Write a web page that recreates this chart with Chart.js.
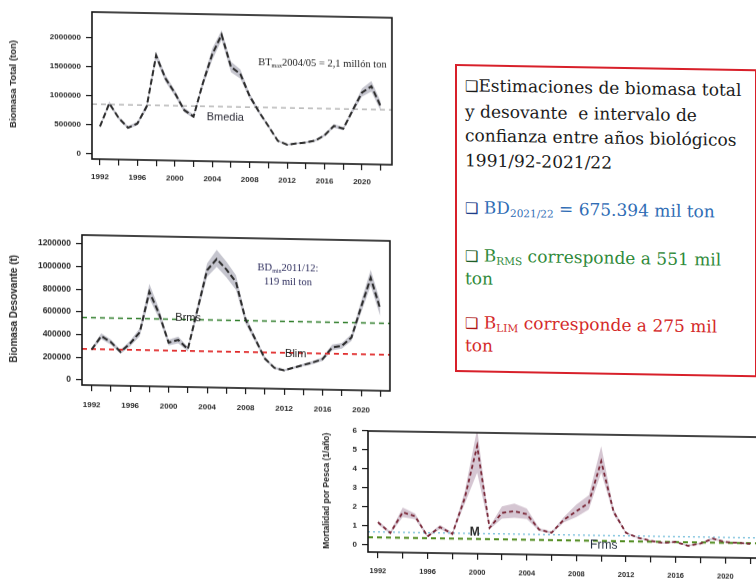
<!DOCTYPE html>
<html>
<head>
<meta charset="utf-8">
<script src="https://cdn.jsdelivr.net/npm/chart.js@4.4.1/dist/chart.umd.min.js"></script>
<style>
  html, body { margin: 0; padding: 0; background: #fff; width: 756px; height: 580px; overflow: hidden; position: relative; }
  canvas { position: absolute; }
  #c1 { left: 0; top: 0; transform: skewY(1.1deg); transform-origin: 92px 0; }
  #c2 { left: 0; top: 220px; transform: skewY(1.1deg); transform-origin: 82px 0; }
  #c3 { left: 315px; top: 415px; transform: skewY(0.9deg); transform-origin: 53px 0; }
  #info {
    position: absolute; left: 455px; top: 64px; width: 302px; height: 308px;
    border: 2px solid #d8202a; box-sizing: border-box;
    transform: skewY(1deg); transform-origin: 0 0;
    font-family: "DejaVu Serif", "Liberation Serif", serif; font-size: 17px; color: #1b1b1b;
  }
  #info div { position: absolute; left: 8px; white-space: nowrap; line-height: 22px; }
  #info div.lead { line-height: 24.5px; }
  .box { font-family: "DejaVu Sans", sans-serif; font-size: 15px; }
  sub { font-size: 10.5px; vertical-align: -3px; line-height: 0; }
</style>
</head>
<body>
<canvas id="c1" width="400" height="190"></canvas>
<canvas id="c2" width="400" height="205"></canvas>
<canvas id="c3" width="455" height="165"></canvas>

<div id="info">
  <div class="lead" style="top:7px"><span class="box">❑</span>Estimaciones de biomasa total<br>y desovante&nbsp; e intervalo de<br>confianza entre años biológicos<br>1991/92-2021/22</div>
  <div style="top:130px; color:#2f6db5"><span class="box" style="color:#1f3f8a">❑</span> BD<sub>2021/22</sub> = 675.394 mil ton</div>
  <div style="top:178px; color:#2f8a3a"><span class="box" style="color:#1f5f2a">❑</span> B<sub>RMS</sub> corresponde a 551 mil<br>ton</div>
  <div style="top:245px; color:#d42a2a"><span class="box" style="color:#b01818">❑</span> B<sub>LIM</sub> corresponde a 275 mil<br>ton</div>
</div>

<script>
// Biological years 1991/92 ... 2021/22, indexed by the closing year
const years = [1992,1993,1994,1995,1996,1997,1998,1999,2000,2001,2002,2003,2004,2005,2006,2007,
               2008,2009,2010,2011,2012,2013,2014,2015,2016,2017,2018,2019,2020,2021,2022];

// Total biomass (ton) with confidence interval
const totalBiomass = [475000,880000,630000,465000,540000,840000,1720000,1330000,1080000,790000,680000,1260000,
                      1760000,2100000,1550000,1430000,1050000,780000,540000,290000,225000,250000,270000,305000,
                      400000,565000,520000,840000,1150000,1260000,920000];
const totalLow = [455000,845000,605000,445000,510000,790000,1650000,1270000,1030000,750000,650000,1200000,
                  1660000,2010000,1460000,1350000,1000000,745000,515000,275000,212000,236000,255000,288000,
                  378000,535000,490000,795000,1080000,1170000,840000];
const totalHigh = [495000,915000,655000,490000,575000,890000,1790000,1390000,1130000,830000,715000,1320000,
                   1860000,2180000,1640000,1510000,1100000,815000,565000,305000,238000,264000,285000,322000,
                   422000,595000,550000,885000,1220000,1350000,1000000];

// Spawning biomass (t) with confidence interval
const spawningBiomass = [270000,390000,340000,255000,330000,430000,790000,600000,345000,370000,290000,640000,
                         990000,1090000,1000000,890000,560000,390000,220000,140000,119000,145000,170000,195000,
                         225000,330000,345000,420000,690000,950000,675394];
const spawningLow = [255000,365000,318000,238000,305000,395000,730000,555000,320000,340000,270000,600000,
                     930000,1020000,930000,820000,525000,365000,205000,130000,110000,135000,158000,182000,
                     210000,305000,320000,390000,640000,880000,610000];
const spawningHigh = [285000,415000,362000,272000,355000,465000,860000,645000,370000,400000,310000,680000,
                      1050000,1170000,1070000,950000,595000,415000,235000,150000,128000,155000,182000,208000,
                      240000,355000,370000,450000,740000,1020000,740000];

// Fishing mortality (1/año) with confidence interval
const fishingMortality = [1.2,0.65,1.75,1.55,0.5,1.0,0.65,2.55,5.3,1.0,1.8,1.9,1.75,0.95,0.8,1.5,
                          1.95,2.4,4.6,1.95,0.85,0.6,0.45,0.35,0.42,0.22,0.35,0.62,0.45,0.42,0.38];
const fishingLow = [1.1,0.6,1.5,1.4,0.45,0.9,0.6,2.25,3.9,0.92,1.5,1.55,1.5,0.88,0.74,1.35,
                    1.65,2.05,4.0,1.8,0.8,0.56,0.42,0.32,0.38,0.18,0.31,0.56,0.41,0.38,0.34];
const fishingHigh = [1.3,0.72,2.0,1.7,0.56,1.12,0.72,2.9,6.2,1.08,2.15,2.3,2.05,1.02,0.86,1.65,
                     2.3,2.8,5.4,2.1,0.9,0.64,0.48,0.38,0.46,0.26,0.39,0.68,0.49,0.46,0.42];

// Reference points
const bMedia = 860000;
const bRms = 551000;
const bLim = 275000;
const mNatural = 0.7;
const fRms = 0.4;

// Axis ticks
const tickYears = [1992,1994,1996,1998,2000,2002,2004,2006,2008,2010,2012,2014,2016,2018,2020,2022];
const labelYears = [1992,1996,2000,2004,2008,2012,2016,2020];
const totalTicks = [0,500000,1000000,1500000,2000000];
const spawningTicks = [0,200000,400000,600000,800000,1000000,1200000];
const mortalityTicks = [0,1,2,3,4,5,6];

const AXIS_FONT = "Liberation Sans, Arial, sans-serif";

// Frame around the plot region plus text notes placed in data coordinates
const framePlugin = {
  id: 'frame',
  afterDatasetsDraw(chart, args, opts) {
    const { ctx, chartArea: a } = chart;
    ctx.save();
    ctx.strokeStyle = '#151515';
    ctx.lineWidth = 1.6;
    ctx.strokeRect(a.left, a.top, a.right - a.left, a.bottom - a.top);
    (opts.notes || []).forEach(n => {
      const px = chart.scales.x.getPixelForValue(n.x);
      const py = chart.scales.y.getPixelForValue(n.y);
      const size = n.size || 11;
      const fam = n.family || AXIS_FONT;
      const main = `${n.weight || 'normal'} ${size}px ${fam}`;
      const small = `${n.weight || 'normal'} ${Math.round(size * 0.6)}px ${fam}`;
      let total = 0;
      n.parts.forEach(p => { ctx.font = p.sub ? small : main; total += ctx.measureText(p.t).width; });
      let x = n.align === 'center' ? px - total / 2 : px;
      ctx.fillStyle = n.color || '#222';
      ctx.textBaseline = 'middle';
      ctx.textAlign = 'left';
      n.parts.forEach(p => {
        ctx.font = p.sub ? small : main;
        ctx.fillText(p.t, x, p.sub ? py + size * 0.3 : py);
        x += ctx.measureText(p.t).width;
      });
    });
    ctx.restore();
  }
};

function makeChart(id, c) {
  const pts = arr => years.map((x, i) => ({ x, y: arr[i] }));
  const hline = v => [{ x: c.xMin, y: v }, { x: c.xMax, y: v }];
  const datasets = [
    { data: pts(c.high), borderWidth: 0, pointRadius: 0, backgroundColor: c.band, fill: '+1', order: 3 },
    { data: pts(c.low), borderWidth: 0, pointRadius: 0, fill: false, order: 3 }
  ];
  c.refs.forEach(r => datasets.push({
    data: hline(r.value), borderColor: r.color, borderWidth: r.width, borderDash: r.dash,
    pointRadius: 0, fill: false, order: 2
  }));
  datasets.push({
    data: pts(c.values), borderColor: c.lineColor, borderWidth: c.lineWidth, borderDash: c.lineDash,
    pointRadius: 0, fill: false, tension: 0, order: 1
  });

  return new Chart(document.getElementById(id), {
    type: 'line',
    data: { datasets },
    plugins: [framePlugin],
    options: {
      responsive: false,
      animation: false,
      devicePixelRatio: 1,
      layout: { padding: { top: c.padTop, right: c.padRight, left: 0, bottom: 0 } },
      plugins: { legend: { display: false }, tooltip: { enabled: false }, frame: { notes: c.notes } },
      scales: {
        x: {
          type: 'linear', min: c.xMin, max: c.xMax,
          afterBuildTicks: s => { s.ticks = tickYears.map(v => ({ value: v })); },
          afterFit: s => { s.height = c.xHeight; },
          ticks: {
            autoSkip: false, maxRotation: 0, padding: c.xLabelPad,
            color: '#2a2a2a', font: { family: AXIS_FONT, size: c.xFont, weight: 'bold' },
            callback: v => labelYears.includes(v) ? String(v) : ''
          },
          grid: { display: true, drawOnChartArea: false, drawTicks: true, tickLength: 6, color: '#1a1a1a', lineWidth: 1.2 },
          border: { display: false }
        },
        y: {
          type: 'linear', min: c.yMin, max: c.yMax,
          afterBuildTicks: s => { s.ticks = c.yTicks.map(v => ({ value: v })); },
          afterFit: s => { s.width = c.yWidth; },
          ticks: {
            padding: 5, color: '#2a2a2a',
            font: { family: AXIS_FONT, size: c.yFont, weight: 'bold' },
            callback: v => String(v)
          },
          grid: { display: true, drawOnChartArea: false, drawTicks: true, tickLength: 6, color: '#1a1a1a', lineWidth: 1.2 },
          border: { display: false },
          title: {
            display: true, text: c.title, color: '#2a2a2a',
            font: { family: AXIS_FONT, size: c.titleSize, weight: 'bold' },
            padding: { top: c.titlePad, bottom: 0 }
          }
        }
      }
    }
  });
}

// Total biomass
makeChart('c1', {
  values: totalBiomass, low: totalLow, high: totalHigh,
  band: 'rgba(150,150,165,0.55)', lineColor: '#2b2b2b', lineWidth: 2, lineDash: [6, 3],
  xMin: 1991.15, xMax: 2023.2, yMin: -86000, yMax: 2450000, yTicks: totalTicks,
  padTop: 12, padRight: 8, yWidth: 92, xHeight: 31, xLabelPad: 7, xFont: 8, yFont: 8,
  title: 'Biomasa Total (ton)', titleSize: 9.5, titlePad: 8,
  refs: [{ value: bMedia, color: '#a8a8a8', width: 1.2, dash: [5, 4] }],
  notes: [
    { x: 2003.4, y: 680000, parts: [{ t: 'Bmedia' }], size: 11, color: '#2a2a35' },
    { x: 2008.9, y: 1630000, family: 'Liberation Serif, serif', size: 10.5, color: '#222',
      parts: [{ t: 'BT' }, { t: 'max', sub: true }, { t: '2004/05 = 2,1 millón ton' }] }
  ]
});

// Spawning biomass
makeChart('c2', {
  values: spawningBiomass, low: spawningLow, high: spawningHigh,
  band: 'rgba(150,150,165,0.55)', lineColor: '#2b2b2b', lineWidth: 2, lineDash: [6, 3],
  xMin: 1991, xMax: 2023, yMin: -44000, yMax: 1279000, yTicks: spawningTicks,
  padTop: 15, padRight: 10, yWidth: 82, xHeight: 40, xLabelPad: 9, xFont: 8, yFont: 8.5,
  title: 'Biomasa Desovante (t)', titleSize: 10, titlePad: 8,
  refs: [
    { value: bRms, color: '#2f7d2a', width: 1.6, dash: [5, 4] },
    { value: bLim, color: '#e02828', width: 1.6, dash: [5, 4] }
  ],
  notes: [
    { x: 2000.7, y: 565000, parts: [{ t: 'Brms' }], size: 11, color: '#222' },
    { x: 2012.1, y: 265000, parts: [{ t: 'Blim' }], size: 11, color: '#222' },
    { x: 2012.4, y: 1020000, align: 'center', family: 'Liberation Serif, serif', size: 10.5, color: '#2c2c5c',
      parts: [{ t: 'BD' }, { t: 'min', sub: true }, { t: '2011/12:' }] },
    { x: 2012.4, y: 895000, align: 'center', family: 'Liberation Serif, serif', size: 10.5, color: '#2c2c5c',
      parts: [{ t: '119 mil ton' }] }
  ]
});

// Fishing mortality
makeChart('c3', {
  values: fishingMortality, low: fishingLow, high: fishingHigh,
  band: 'rgba(185,160,180,0.6)', lineColor: '#7a2838', lineWidth: 1.8, lineDash: [4, 3],
  xMin: 1991.2, xMax: 2023.2, yMin: -0.37, yMax: 6, yTicks: mortalityTicks,
  padTop: 16, padRight: 5, yWidth: 53, xHeight: 28, xLabelPad: 8, xFont: 7.5, yFont: 8,
  title: 'Mortalidad por Pesca (1/año)', titleSize: 8.5, titlePad: 7,
  refs: [
    { value: mNatural, color: '#86c6df', width: 1.6, dash: [2, 3] },
    { value: fRms, color: '#4f8a1e', width: 2, dash: [5, 4] }
  ],
  notes: [
    { x: 1999.4, y: 0.74, parts: [{ t: 'M' }], size: 12, weight: 'bold', color: '#2a2a2a' },
    { x: 2009.1, y: 0.18, parts: [{ t: 'Frms' }], size: 12, color: '#1e2a3a' }
  ]
});
</script>
</body>
</html>
